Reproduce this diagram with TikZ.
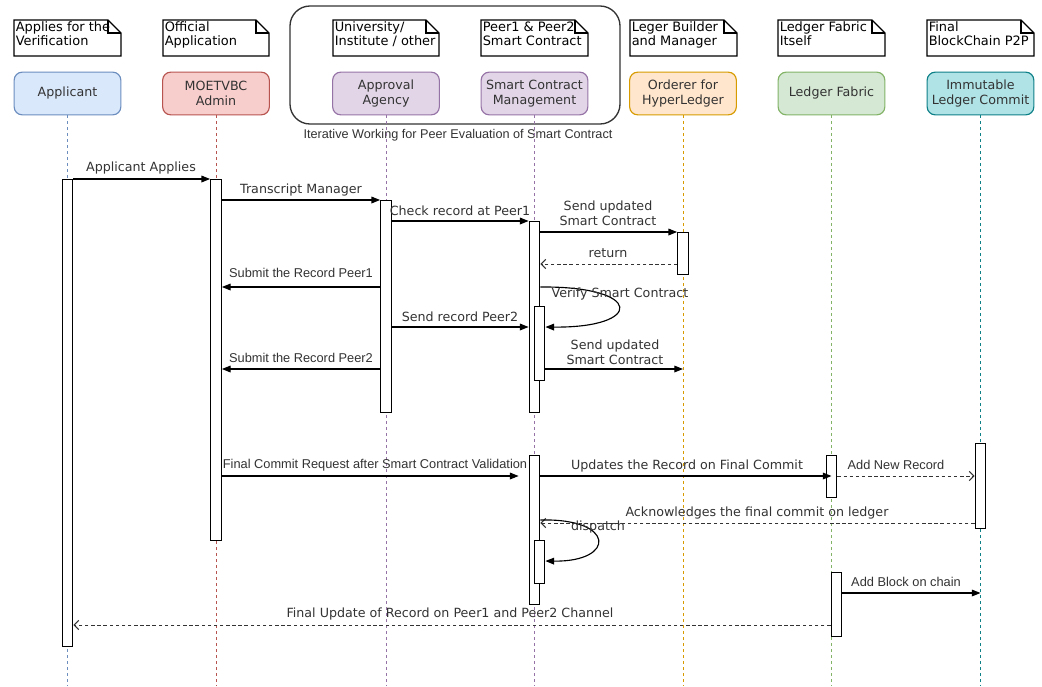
\documentclass[tikz,border=0pt]{standalone}
\usepackage{fontspec}
\setmainfont{DejaVu Sans}
\newfontfamily\arialfont{Liberation Sans}
\usetikzlibrary{arrows.meta,calc}

\definecolor{txt}{HTML}{333333}
\definecolor{bluefill}{HTML}{DAE8FC}\definecolor{bluedraw}{HTML}{6C8EBF}
\definecolor{redfill}{HTML}{F8CECC}\definecolor{reddraw}{HTML}{B85450}
\definecolor{purfill}{HTML}{E1D5E7}\definecolor{purdraw}{HTML}{9673A6}
\definecolor{orafill}{HTML}{FFE6CC}\definecolor{oradraw}{HTML}{D79B00}
\definecolor{grnfill}{HTML}{D5E8D4}\definecolor{grndraw}{HTML}{82B366}
\definecolor{tealfill}{HTML}{B0E3E6}\definecolor{tealdraw}{HTML}{0E8088}

\tikzset{
  head/.style={rounded corners=6pt, minimum width=80pt, minimum height=32pt,
    align=center, inner sep=1pt, line width=0.85pt, text=txt,
    font=\fontsize{9.5}{11.2}\selectfont},
  notetext/.style={anchor=north west, inner sep=0pt, align=left, text=black,
    font=\fontsize{9.7}{10.6}\selectfont},
  noteframe/.style={draw=black, line width=0.85pt, line join=miter},
  lifeline/.style={dash pattern=on 2.25pt off 2.25pt, line width=0.75pt},
  actbar/.style={draw=black, fill=white, minimum width=8pt, inner sep=0pt,
    anchor=north, line width=0.85pt},
  msg/.style={line width=0.85pt, -{Triangle[length=6.5pt,width=5pt]}},
  reply/.style={line width=0.75pt, draw=txt, dash pattern=on 2.6pt off 2pt,
    -{Straight Barb[length=3.5pt,width=7pt]}},
  lbl/.style={inner sep=0pt, text=txt, font=\fontsize{9.5}{11.5}\selectfont, align=center},
  albl/.style={inner sep=0pt, text=txt, font=\arialfont\fontsize{9.6}{11}\selectfont},
}

% note with a folded top-right corner: name, left x, right x, text
\newcommand\foldnote[4]{%
  \node[notetext] (#1) at (#2+1.5,21.5) {#4};
  \draw[noteframe] (#2,20) -- (#3-13,20) -- (#3,33) -- (#3,56) -- (#2,56) -- cycle;
  \draw[noteframe] (#3-13,20) -- (#3-13,33) -- (#3,33);
}

\begin{document}
\begin{tikzpicture}[x=0.75pt,y=-0.75pt]
\useasboundingbox[fill=white] (0,0) rectangle (1042,686);

% peer evaluation group
\draw[line width=1pt, draw=txt, rounded corners=15pt] (290,6) rectangle (620,124);
\node[inner sep=0pt, text=txt, font=\arialfont\fontsize{9.5}{11}\selectfont] (cap) at (458,135)
  {Iterative Working for Peer Evaluation of Smart Contract};

% role notes
\foldnote{nA}{14}{121}{Applies for the\\Verification}
\foldnote{nD}{163}{269}{Official\\Application}
\foldnote{nG}{333}{439}{University/\\Institute / other}
\foldnote{nS}{481}{588}{Peer1 \& Peer2\\Smart Contract}
\foldnote{nO}{630}{737}{Leger Builder\\and Manager}
\foldnote{nL}{778}{885}{Ledger Fabric\\Itself}
\foldnote{nI}{927}{1034}{Final\\BlockChain P2P}

% participants
\node[head, fill=bluefill, draw=bluedraw] (hA) at (67.5,93.5) {Applicant};
\node[head, fill=redfill, draw=reddraw] (hD) at (216,93.5) {MOETVBC\\Admin};
\node[head, fill=purfill, draw=purdraw] (hG) at (386,93.5) {Approval\\Agency};
\node[head, fill=purfill, draw=purdraw] (hS) at (534.5,93.5) {Smart Contract\\Management};
\node[head, fill=orafill, draw=oradraw] (hO) at (683,93.5) {Orderer for\\HyperLedger};
\node[head, fill=grnfill, draw=grndraw] (hL) at (831.5,93.5) {Ledger Fabric};
\node[head, fill=tealfill, draw=tealdraw] (hI) at (980.5,93.5) {Immutable\\Ledger Commit};

% lifelines
\coordinate (bot) at (0,686);
\draw[lifeline, bluedraw] (hA.south) -- (hA.south |- bot);
\draw[lifeline, reddraw] (hD.south) -- (hD.south |- bot);
\draw[lifeline, purdraw] (hG.south) -- (hG.south |- bot);
\draw[lifeline, purdraw] (hS.south) -- (hS.south |- bot);
\draw[lifeline, oradraw] (hO.south) -- (hO.south |- bot);
\draw[lifeline, grndraw] (hL.south) -- (hL.south |- bot);
\draw[lifeline, tealdraw] (hI.south) -- (hI.south |- bot);

% activation bars
\node[actbar, minimum height=350.25pt] (aB) at (67.5,179) {};
\node[actbar, minimum height=270.75pt] (dB) at (216,179) {};
\node[actbar, minimum height=159pt] (gB) at (386,200) {};
\node[actbar, minimum height=143.25pt] (sB1) at (534.5,221) {};
\node[actbar, minimum height=55.5pt] (sB1n) at (539.5,306) {};
\node[actbar, minimum height=31.5pt] (oB) at (683,232) {};
\node[actbar, minimum height=111.75pt] (sB2) at (534.5,455) {};
\node[actbar, minimum height=32.25pt] (sB2n) at (539.5,540) {};
\node[actbar, minimum height=31.5pt] (lB1) at (831.5,455) {};
\node[actbar, minimum height=63.75pt] (iB) at (980.5,443) {};
\node[actbar, minimum height=48pt] (lB2) at (836.5,572) {};

% message levels
\coordinate (y1) at (0,179);
\coordinate (y2) at (0,200);
\coordinate (y3) at (0,221);
\coordinate (y4) at (0,232);
\coordinate (y5) at (0,264);
\coordinate (y6) at (0,287);
\coordinate (y7) at (0,327);
\coordinate (y8) at (0,369);
\coordinate (y9) at (0,476);
\coordinate (y10) at (0,520);
\coordinate (y11) at (0,523);
\coordinate (y12) at (0,561);
\coordinate (y13) at (0,593);
\coordinate (y14) at (0,625);

% messages
\draw[msg] (aB.east |- y1) -- (dB.west |- y1);
\node[lbl] (t1) at (141,168) {Applicant Applies};

\draw[msg] (dB.east |- y2) -- (gB.west |- y2);
\node[lbl] (t2) at (301,190) {Transcript Manager};

\draw[msg] (gB.east |- y3) -- (sB1.west |- y3);
\node[lbl] (t3) at (460,211) {Check record at Peer1};

\draw[msg] (sB1.east |- y4) -- (oB.west |- y4);
\node[lbl] (t4) at (608,213.5) {Send updated\\Smart Contract};

\draw[reply] (oB.west |- y5) -- (sB1.east |- y5);
\node[lbl] (t5) at (608,253) {return};

\draw[msg] (gB.west |- y6) -- (dB.east |- y6);
\node[albl] (t8) at (301,273) {Submit the Record Peer1};

\draw[msg] (sB1.east |- y6) .. controls (644,286) and (644,328) .. (sB1n.east |- y7);
\node[lbl] (t6) at (620,294) {Verify Smart Contract};

\draw[msg] (gB.east |- y7) -- (sB1.west |- y7);
\node[lbl] (t7) at (460,317) {Send record Peer2};

\draw[msg] (gB.west |- y8) -- (dB.east |- y8);
\node[albl] (t9) at (301,358) {Submit the Record Peer2};

\draw[msg] (sB1n.east |- y8) -- (hO.south |- y8);
\node[lbl] (t10) at (615,352) {Send updated\\Smart Contract};

\draw[msg, shorten >=7.5pt] (dB.east |- y9) -- (sB2.west |- y9);
\node[albl] (t11) at (375,465) {Final Commit Request after Smart Contract Validation};

\draw[msg] (sB2.east |- y9) -- (hL.south |- y9);
\node[lbl] (t12) at (687,466) {Updates the Record on Final Commit};

\draw[reply] (lB1.east |- y9) -- (iB.west |- y9);
\node[albl] (t13) at (896,465) {Add New Record};

\draw[reply] (iB.west |- y11) -- (sB2.east |- y11);
\node[lbl] (t14) at (757,513) {Acknowledges the final commit on ledger};

\draw[msg] (sB2.east |- y10) .. controls (616,518) and (616,562) .. (sB2n.east |- y12);
\node[lbl] (t15) at (598,527) {dispatch};

\draw[msg] (lB2.east |- y13) -- (hI.south |- y13);
\node[albl] (t16) at (906,582) {Add Block on chain};

\draw[reply] (lB2.west |- y14) -- (aB.east |- y14);
\node[lbl] (t17) at (450,614) {Final Update of Record on Peer1 and Peer2 Channel};
\end{tikzpicture}
\end{document}
